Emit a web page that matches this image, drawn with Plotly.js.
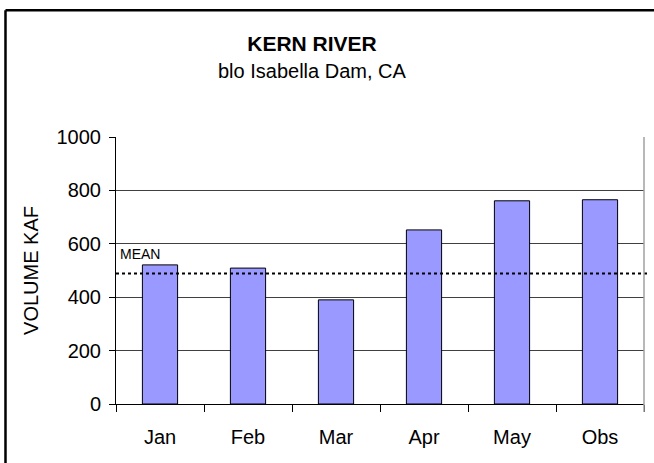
<!DOCTYPE html>
<html>
<head>
<meta charset="utf-8">
<script src="https://cdn.plot.ly/plotly-3.0.1.min.js"></script>
<style>
  html, body { margin: 0; padding: 0; background: #fff; }
  #chart { width: 654px; height: 463px; }
</style>
</head>
<body>
<div id="chart"></div>
<script>
const categories = ["Jan", "Feb", "Mar", "Apr", "May", "Obs"];
const volumes = [521, 509, 390, 652, 761, 765];
const meanValue = 489;
const yTickValues = [0, 200, 400, 600, 800, 1000];
const titleText = "KERN RIVER";
const subtitleText = "blo Isabella Dam, CA";
const yTitleText = "VOLUME KAF";
const meanLabel = "MEAN";

const font = "Liberation Sans, Arial, sans-serif";

const trace = {
  type: "bar",
  x: categories,
  y: volumes,
  width: 0.4,
  marker: { color: "#9999FF", line: { color: "#000000", width: 1 } },
  hoverinfo: "x+y"
};

const layout = {
  width: 654,
  height: 463,
  margin: { l: 116, r: 10, t: 137, b: 59, pad: 0 },
  paper_bgcolor: "#ffffff",
  plot_bgcolor: "#ffffff",
  showlegend: false,
  font: { family: font, color: "#000000", size: 20 },
  title: {
    text: "<b>" + titleText + "</b>",
    font: { family: font, size: 21, color: "#000000" },
    x: 312 / 654, xanchor: "center",
    y: 1 - 44 / 463, yanchor: "middle"
  },
  xaxis: {
    type: "category",
    tickson: "boundaries",
    ticks: "outside",
    ticklen: 7,
    tickcolor: "#000000",
    tickwidth: 1,
    showline: true,
    linecolor: "#000000",
    linewidth: 1,
    showgrid: false,
    tickfont: { family: font, size: 20 },
    ticklabelstandoff: 15,
    fixedrange: true
  },
  yaxis: {
    range: [0, 1000],
    tickvals: yTickValues,
    ticks: "outside",
    ticklen: 6,
    tickcolor: "#000000",
    showline: true,
    linecolor: "#000000",
    linewidth: 1,
    showgrid: true,
    gridcolor: "#404040",
    gridwidth: 1,
    zeroline: false,
    tickfont: { family: font, size: 20 },
    ticklabelstandoff: 4,
    title: { text: yTitleText, font: { family: font, size: 20 }, standoff: 12 },
    fixedrange: true
  },
  shapes: [
    { type: "line", xref: "paper", yref: "y", x0: 0, x1: 1.006, y0: meanValue, y1: meanValue,
      line: { color: "#000000", width: 2, dash: "dot" } },
    { type: "line", xref: "paper", yref: "paper", x0: 1, x1: 1, y0: -0.03, y1: 1,
      line: { color: "#a0a0a0", width: 1.5 } },
    { type: "line", xref: "paper", yref: "paper", x0: -0.2093, x1: -0.2093, y0: -0.3, y1: 1.4747,
      line: { color: "#000000", width: 2.5 } },
    { type: "line", xref: "paper", yref: "paper", x0: -0.2093, x1: 1.1, y0: 1.4747, y1: 1.4747,
      line: { color: "#000000", width: 2.5 } }
  ],
  annotations: [
    { text: subtitleText, xref: "paper", yref: "paper", x: (312 - 116) / 528, y: (404 - 71) / 267,
      xanchor: "center", yanchor: "middle", showarrow: false,
      font: { family: font, size: 20, color: "#000000" } },
    { text: meanLabel, xref: "paper", yref: "y", x: 0, y: meanValue, xanchor: "left", yanchor: "bottom",
      xshift: 2, yshift: 9, showarrow: false,
      font: { family: font, size: 14, color: "#000000" } }
  ]
};

Plotly.newPlot("chart", [trace], layout, { displayModeBar: false, staticPlot: true });
</script>
</body>
</html>
